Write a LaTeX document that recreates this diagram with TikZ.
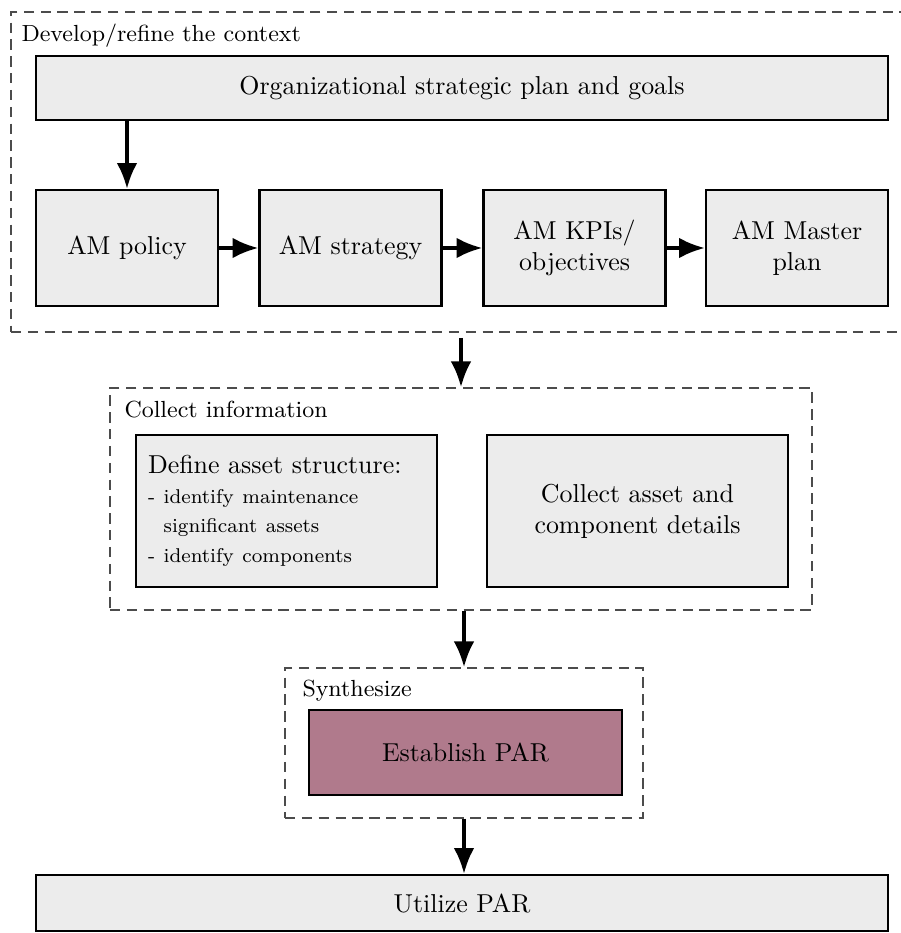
\documentclass[tikz,border=0pt]{standalone}
\usepackage{tikz}
\usetikzlibrary{arrows.meta, fit}

\definecolor{parmauve}{RGB}{176,122,140}
\newcommand{\pxu}{0.386pt}
\newcommand{\notefont}{\fontsize{7.7}{9.5}\selectfont}

\tikzset{
	stepbox/.style={draw, line width=0.8pt, fill=gray!15, align=center, inner sep=2pt},
	groupbox/.style={draw=black!70, line width=0.5pt, dash pattern=on 4pt off 2.5pt, inner sep=0pt},
	grouptitle/.style={anchor=west, font=\small, inner sep=0pt},
	flow/.style={-{Latex[length=10pt,width=8pt]}, line width=1.5pt},
}

\begin{document}
\begin{tikzpicture}[x=0.386pt, y=-0.386pt]
	\useasboundingbox (0,0) rectangle (900,933);

	%context group
	\coordinate (ctxA) at (11,12);
	\coordinate (ctxB) at (915,332);
	\node[groupbox, fit=(ctxA)(ctxB)] (ctx) {};
	\node[grouptitle] (ctxtitle) at (21,36) {Develop/refine the context};
	\node[stepbox, minimum width=852*\pxu, minimum height=64*\pxu] (goals) at (462,88) {Organizational strategic plan and goals};
		\node[stepbox, minimum width=182*\pxu, minimum height=116*\pxu] (policy) at (127,248) {AM policy};
		\node[stepbox, minimum width=182*\pxu, minimum height=116*\pxu] (strategy) at (350.5,248) {AM strategy};
		\node[stepbox, minimum width=182*\pxu, minimum height=116*\pxu] (kpis) at (574.5,248) {AM KPIs/\\objectives};
		\node[stepbox, minimum width=182*\pxu, minimum height=116*\pxu] (master) at (797,248) {AM Master\\plan};

	%information group
	\coordinate (infoA) at (110,388);
	\coordinate (infoB) at (812,610);
	\node[groupbox, fit=(infoA)(infoB)] (info) {};
	\node[grouptitle] (infotitle) at (124,410) {Collect information};
	\node[stepbox, minimum width=301*\pxu, minimum height=152*\pxu, text width=277*\pxu, inner sep=12*\pxu, align=left] (structure) at (286.5,511)
		{Define asset structure:\\[-0.6pt]
		{\notefont - identify maintenance}\\[-0.6pt]
		{\notefont \phantom{- }significant assets}\\[-0.6pt]
		{\notefont - identify components}};
	\node[stepbox, minimum width=301*\pxu, minimum height=152*\pxu] (details) at (637.5,511) {Collect asset and\\component details};

	%synthesis group
	\coordinate (synA) at (285,668);
	\coordinate (synB) at (643,818);
	\node[groupbox, fit=(synA)(synB)] (syn) {};
	\node[grouptitle] (syntitle) at (302,691) {Synthesize};
	\node[stepbox, fill=parmauve, minimum width=313*\pxu, minimum height=85*\pxu] (par) at (465.5,752.5) {Establish PAR};

	\node[stepbox, minimum width=852*\pxu, minimum height=56*\pxu] (use) at (462,903) {Utilize PAR};

	%arrows
	\draw[flow] (goals.south -| policy.north) -- (policy.north);
	\draw[flow] (policy.east) -- (strategy.west);
	\draw[flow] (strategy.east) -- (kpis.west);
	\draw[flow] (kpis.east) -- (master.west);
	%
	\draw[flow, shorten <=2pt] (ctx.south -| info.north) -- (info.north);
	\draw[flow] (info.south -| syn.north) -- (syn.north);
	\draw[flow] (syn.south) -- (syn.south |- use.north);
\end{tikzpicture}
\end{document}
